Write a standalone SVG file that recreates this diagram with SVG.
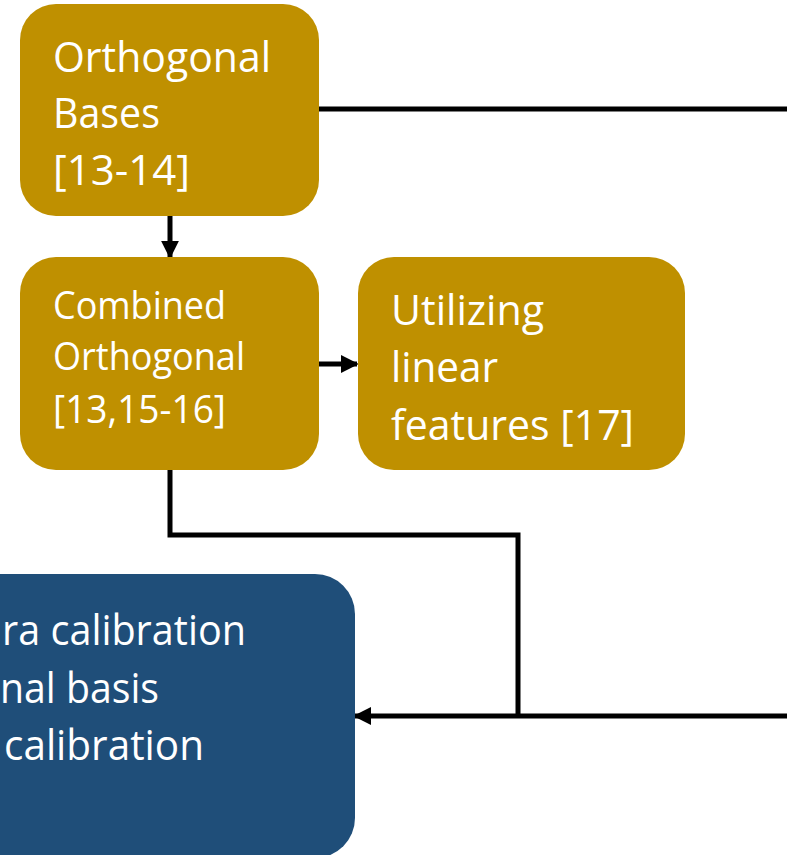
<svg xmlns="http://www.w3.org/2000/svg" width="787" height="855" viewBox="0 0 787 855">
  <style>
    .gold { fill: #BF9000; }
    .blue { fill: #1F4E79; }
    .lbl { fill: #FFFFFF; font-family: "Open Sans", "Noto Sans", "Liberation Sans", sans-serif; }
    .big { font-size: 42px; }
    .small { font-size: 38px; }
    .wire { fill: none; stroke: #000000; stroke-width: 5; stroke-linejoin: miter; }
  </style>
  <defs>
    <marker id="arrow" viewBox="0 0 10 10" refX="9" refY="5" markerWidth="3.6" markerHeight="3.6" orient="auto" markerUnits="strokeWidth">
      <path d="M0,0 L10,5 L0,10 Z" fill="#000000"/>
    </marker>
  </defs>

  <rect width="787" height="855" fill="#FFFFFF"/>

  <g id="connectors">
    <!-- Orthogonal Bases to the right edge -->
    <path class="wire" d="M319,109 H787"/>
    <!-- Orthogonal Bases down to Combined Orthogonal -->
    <path class="wire" d="M170,216 V257" marker-end="url(#arrow)"/>
    <!-- Combined Orthogonal to Utilizing linear features -->
    <path class="wire" d="M317,364 H357" marker-end="url(#arrow)"/>
    <!-- Combined Orthogonal down and across to the feed line -->
    <path class="wire" d="M170,468 V535 H518 V716"/>
    <!-- Feed line into the calibration box -->
    <path class="wire" d="M787,716 H355" marker-end="url(#arrow)"/>
  </g>

  <g id="orthogonal-bases">
    <rect class="gold" x="20" y="4" width="299" height="212" rx="36" ry="36"/>
    <text class="lbl big" x="53" y="72" textLength="218" lengthAdjust="spacingAndGlyphs">Orthogonal</text>
    <text class="lbl big" x="53" y="128" textLength="107" lengthAdjust="spacingAndGlyphs">Bases</text>
    <text class="lbl big" x="53" y="185" textLength="137" lengthAdjust="spacingAndGlyphs">[13-14]</text>
  </g>

  <g id="combined-orthogonal">
    <rect class="gold" x="20" y="257" width="299" height="213" rx="36" ry="36"/>
    <text class="lbl small" x="53" y="319" textLength="173" lengthAdjust="spacingAndGlyphs">Combined</text>
    <text class="lbl small" x="53" y="370" textLength="192" lengthAdjust="spacingAndGlyphs">Orthogonal</text>
    <text class="lbl small" x="53" y="423" textLength="173" lengthAdjust="spacingAndGlyphs">[13,15-16]</text>
  </g>

  <g id="linear-features">
    <rect class="gold" x="358" y="257" width="327" height="213" rx="36" ry="36"/>
    <text class="lbl big" x="391" y="325" textLength="153" lengthAdjust="spacingAndGlyphs">Utilizing</text>
    <text class="lbl big" x="391" y="382" textLength="107" lengthAdjust="spacingAndGlyphs">linear</text>
    <text class="lbl big" x="391" y="440" textLength="243" lengthAdjust="spacingAndGlyphs">features [17]</text>
  </g>

  <g id="calibration">
    <rect class="blue" x="-60" y="574" width="415" height="284" rx="40" ry="40"/>
    <text class="lbl big" x="2" y="645" textLength="244" lengthAdjust="spacingAndGlyphs">ra calibration</text>
    <text class="lbl big" x="0" y="703" textLength="159" lengthAdjust="spacingAndGlyphs">nal basis</text>
    <text class="lbl big" x="4" y="760" textLength="200" lengthAdjust="spacingAndGlyphs">calibration</text>
  </g>
</svg>
